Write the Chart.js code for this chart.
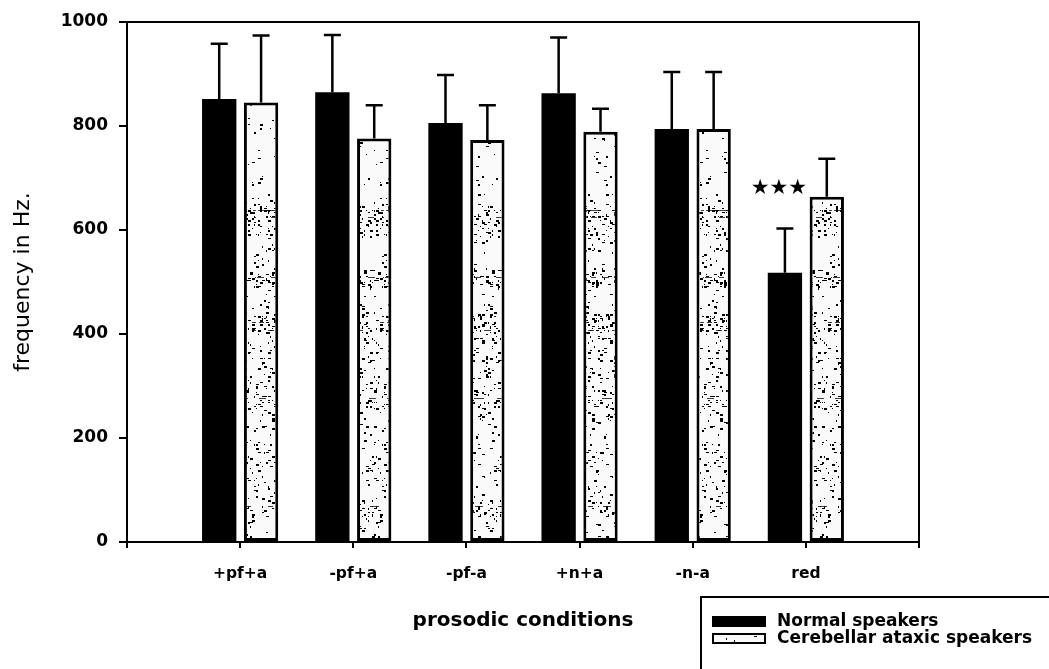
<!DOCTYPE html>
<html>
<head>
<meta charset="utf-8">
<script src="https://cdn.jsdelivr.net/npm/chart.js@4.4.1/dist/chart.umd.min.js"></script>
<style>
  html, body { margin: 0; padding: 0; background: #fff; }
  canvas { display: block; }
</style>
</head>
<body>
<canvas id="c" width="1049" height="669"></canvas>
<script>
// Mean F0 range per prosodic condition, with upward standard-deviation whiskers
const conditions   = ['+pf+a', '-pf+a', '-pf-a', '+n+a', '-n-a', 'red'];
const normalMean   = [852, 865, 806, 863, 794, 518];
const normalSD     = [106, 110,  92, 107, 110,  85];
const ataxicMean   = [845, 776, 773, 789, 794, 664];
const ataxicSD     = [129,  64,  67,  44, 110,  73];
const seriesNames  = ['Normal speakers', 'Cerebellar ataxic speakers'];
const marks        = ['', '', '', '', '', '★★★'];
const yTicks       = [0, 200, 400, 600, 800, 1000];

// category axis gets an empty slot on each side
const labels = [''].concat(conditions, ['']);
const pad = arr => [null].concat(arr, [null]);

const canvas = document.getElementById('c');
const ctx = canvas.getContext('2d');

// speckled fill used for the ataxic-speaker bars
function hash(n) {
  let x = Math.imul((n | 0) ^ 0x9e3779b9, 0x85ebca6b);
  x ^= x >>> 13;
  x = Math.imul(x, 0xc2b2ae35);
  x ^= x >>> 16;
  x = Math.imul(x ^ (x >>> 15), 0x2c1b3c6d);
  x ^= x >>> 12;
  return (x >>> 0) / 4294967296;
}
// [centre row, half-width, extra density] of the darker stipple bands
const bands = [[213, 8, 0.18], [232, 6, 0.10], [277, 8, 0.16], [325, 14, 0.15],
               [365, 25, 0.08], [400, 12, 0.12], [470, 30, 0.05], [510, 10, 0.08]];
function makeStipple() {
  const W = 64, H = 669;
  const cv = document.createElement('canvas');
  cv.width = W; cv.height = H;
  const g = cv.getContext('2d');
  g.fillStyle = '#fafafa';
  g.fillRect(0, 0, W, H);
  const dens = y => {
    let d = y < 170 ? 0.025 : 0.05;
    bands.forEach(([c, w, a]) => { d += a * Math.exp(-Math.pow((y - c) / w, 2)); });
    return d;
  };
  g.fillStyle = '#000';
  let k = 0;
  for (let y = 0; y < H; y += 2) {
    for (let x = 0; x < W; x += 2) {
      k++;
      if (hash(k * 3) < dens(y)) {
        const w = 1 + Math.floor(hash(k * 3 + 1) * 3);
        const h = 1 + Math.floor(hash(k * 3 + 2) * 2);
        g.fillRect(x, y, w, h);
      }
    }
  }
  // a few horizontal streaks
  g.globalAlpha = 0.75;
  [210, 217, 277, 322, 330, 398, 506].forEach((y, i) => {
    for (let x = 0; x < W; x += 12) {
      const s = 7919 * (i + 1) + x;
      if (hash(s) < 0.6) g.fillRect(x + Math.floor(hash(s + 1) * 4), y, 5 + Math.floor(hash(s + 2) * 6), 1);
    }
  });
  return ctx.createPattern(cv, 'repeat');
}
const stipple = makeStipple();

const errorBars = {
  id: 'errorBars',
  afterDatasetsDraw(chart) {
    const c = chart.ctx, ys = chart.scales.y;
    const sds = [normalSD, ataxicSD];
    const means = [normalMean, ataxicMean];
    c.save();
    c.strokeStyle = '#000';
    c.lineWidth = 2.5;
    chart.data.datasets.forEach((ds, di) => {
      const meta = chart.getDatasetMeta(di);
      means[di].forEach((m, i) => {
        const el = meta.data[i + 1];
        const top = ys.getPixelForValue(m + sds[di][i]);
        c.beginPath();
        c.moveTo(el.x, el.y);
        c.lineTo(el.x, top);
        c.moveTo(el.x - 8.5, top);
        c.lineTo(el.x + 8.5, top);
        c.stroke();
      });
    });
    // significance marks above the normal-speaker whisker
    const meta0 = chart.getDatasetMeta(0);
    c.fillStyle = '#000';
    c.font = '21px "DejaVu Sans"';
    c.textAlign = 'center';
    c.textBaseline = 'middle';
    marks.forEach((t, i) => {
      if (!t) return;
      const el = meta0.data[i + 1];
      const y = ys.getPixelForValue(normalMean[i] + normalSD[i]) - 40;
      c.fillText(t, el.x - 6, y);
    });
    // frame around the plotting area
    const a = chart.chartArea;
    c.lineWidth = 2;
    c.strokeRect(a.left, a.top, a.right - a.left, a.bottom - a.top);
    c.restore();
  }
};

const legendBox = {
  id: 'legendBox',
  afterDraw(chart) {
    const c = chart.ctx;
    c.save();
    c.strokeStyle = '#000';
    c.lineWidth = 2;
    c.beginPath();
    c.moveTo(701, 669);
    c.lineTo(701, 597);
    c.lineTo(1049, 597);
    c.stroke();
    const rows = [616, 633];
    chart.data.datasets.forEach((ds, i) => {
      const y = rows[i];
      c.fillStyle = ds.backgroundColor;
      c.fillRect(712, y, 54, 11);
      if (ds.borderWidth) {
        c.lineWidth = 2;
        c.strokeRect(713, y + 1, 52, 9);
      }
      c.fillStyle = '#000';
      c.font = 'bold 17px "DejaVu Sans"';
      c.textAlign = 'left';
      c.textBaseline = 'middle';
      c.fillText(ds.label, 777, y + 5.5);
    });
    c.restore();
  }
};

new Chart(ctx, {
  type: 'bar',
  data: {
    labels: labels,
    datasets: [
      {
        label: seriesNames[0],
        data: pad(normalMean),
        backgroundColor: '#000',
        borderWidth: 0
      },
      {
        label: seriesNames[1],
        data: pad(ataxicMean),
        backgroundColor: stipple,
        borderColor: '#000',
        borderWidth: 3,
        borderSkipped: false
      }
    ]
  },
  options: {
    responsive: false,
    animation: false,
    events: [],
    categoryPercentage: 0.74,
    barPercentage: 0.82,
    layout: { padding: { top: 22, right: 130, left: 0, bottom: 0 } },
    plugins: { legend: { display: false }, tooltip: { enabled: false } },
    scales: {
      x: {
        offset: false,
        grid: { offset: false, drawOnChartArea: false, drawTicks: true, tickLength: 6, color: '#000', lineWidth: 2 },
        border: { display: true, color: '#000', width: 2 },
        ticks: {
          color: '#000',
          padding: 17,
          maxRotation: 0,
          autoSkip: false,
          font: { family: 'DejaVu Sans', weight: 'bold', size: 15.5 }
        },
        title: {
          display: true,
          text: 'prosodic conditions',
          color: '#000',
          font: { family: 'DejaVu Sans', weight: 'bold', size: 20 },
          padding: { top: 0, bottom: 36 }
        },
        afterFit(s) { s.height = 127; }
      },
      y: {
        min: 0,
        max: 1000,
        afterBuildTicks(s) { s.ticks = yTicks.map(v => ({ value: v })); },
        grid: { drawOnChartArea: false, drawTicks: true, tickLength: 8, color: '#000', lineWidth: 2 },
        border: { display: true, color: '#000', width: 2 },
        ticks: {
          color: '#000',
          padding: 11,
          callback: v => String(v),
          font: { family: 'DejaVu Sans', weight: 'bold', size: 17 }
        },
        title: {
          display: true,
          text: 'frequency in Hz.',
          color: '#000',
          font: { family: 'DejaVu Sans', size: 22 },
          padding: { top: 10, bottom: 0 }
        },
        afterFit(s) { s.width = 127; }
      }
    }
  },
  plugins: [errorBars, legendBox]
});
</script>
</body>
</html>
